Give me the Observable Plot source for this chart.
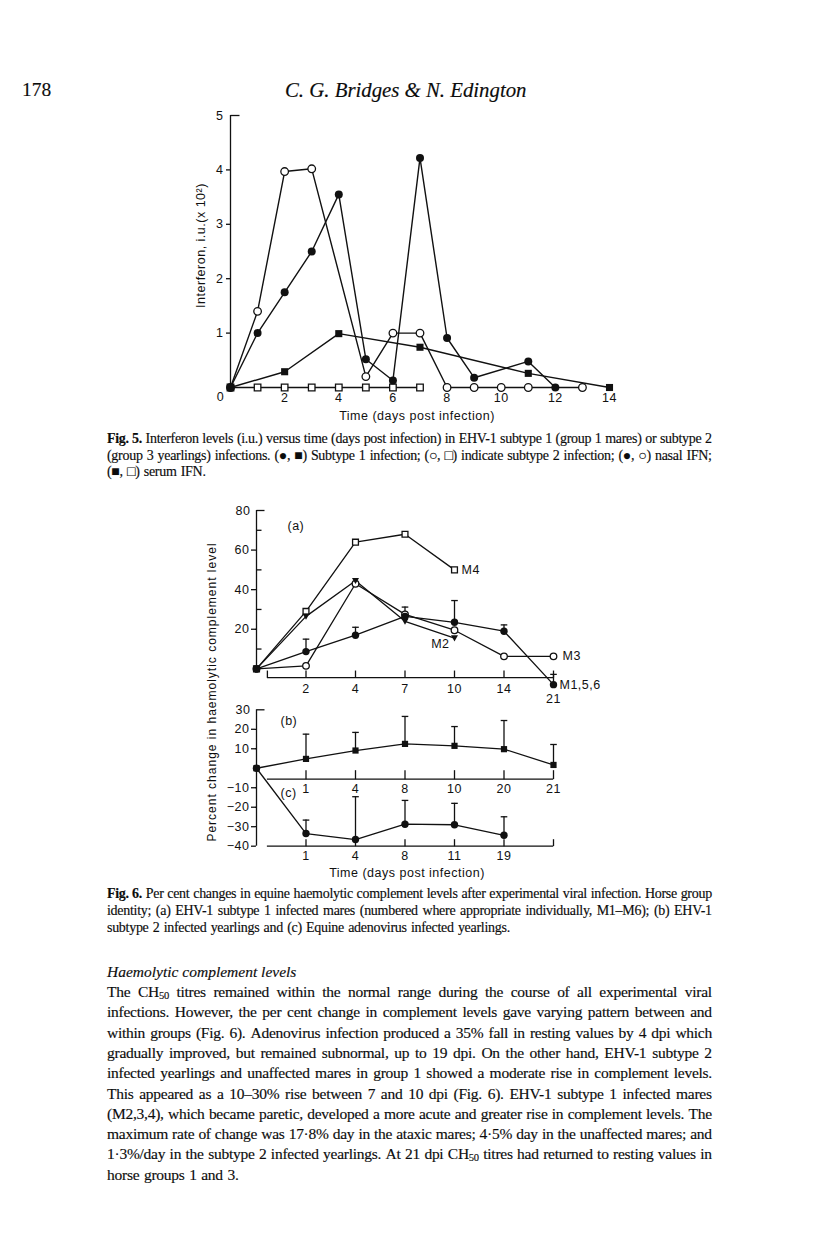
<!DOCTYPE html>
<html>
<head>
<meta charset="utf-8">
<script src="https://cdn.jsdelivr.net/npm/d3@7"></script>
<script src="https://cdn.jsdelivr.net/npm/@observablehq/plot@0.6"></script>
<style>
html,body{margin:0;padding:0;background:#fff;}
body{width:816px;height:1246px;position:relative;overflow:hidden;font-family:"Liberation Serif","Times New Roman",serif;color:#0c0c0c;-webkit-text-stroke:0.15px #0c0c0c;}
.abs{position:absolute;}
.line{position:absolute;display:flex;justify-content:space-between;white-space:nowrap;line-height:1;transform:translateY(-50%);}
.line.free{display:block;}
sub{font-size:0.68em;vertical-align:-0.12em;line-height:0;}
.ytitle{position:absolute;font-family:"Liberation Sans",Arial,sans-serif;font-size:12px;letter-spacing:1px;white-space:nowrap;text-align:center;line-height:14px;transform:rotate(-90deg);transform-origin:50% 50%;-webkit-text-stroke:0;}
svg{-webkit-text-stroke:0;}
</style>
</head>
<body>
<div id="page"></div>
<script>
// ================= DATA =================
// Fig. 5 — interferon (i.u. x 10^2) vs days post infection
const fig5XTicks = [0, 2, 4, 6, 8, 10, 12, 14];
const fig5YTicks = [1, 2, 3, 4, 5];
const nasalS1Days = [0, 1, 2, 3, 4, 5, 6, 7, 8, 9, 11, 12];
const nasalS1IFN  = [0, 1.0, 1.75, 2.5, 3.55, 0.52, 0.13, 4.22, 0.91, 0.18, 0.48, 0];
const nasalS2Days = [0, 1, 2, 3, 5, 6, 7, 8, 9, 10, 11, 13];
const nasalS2IFN  = [0, 1.4, 3.97, 4.02, 0.2, 1.0, 1.0, 0, 0, 0, 0, 0];
const serumS1Days = [0, 2, 4, 7, 11, 14];
const serumS1IFN  = [0, 0.29, 0.99, 0.74, 0.26, 0];
const serumS2Days = [0, 1, 2, 3, 4, 5, 6, 7];
const serumS2IFN  = [0, 0, 0, 0, 0, 0, 0, 0];
const fig5YTitle = "Interferon, i.u.(x 10²)";
const fig5XTitle = "Time (days post infection)";

// Fig. 6 (a) — per cent change, EHV-1 subtype 1 mares
const aDays = ["0", "2", "4", "7", "10", "14", "21"];
const aMajorTicks = [20, 40, 60, 80];
const aMinorTicks = [10, 30, 50, 70];
const m4   = [0, 29, 64, 68, 50];
const m2   = [0, 26.5, 44.5, 24, 15.5];
const m3   = [0, 1.5, 43, 27.5, 19.5, 6.3, 6.3];
const m156 = [0, 8.7, 17, 26.5, 23.5, 19, -8];
const m156Err = [null, 15, 21, 31.2, 34.5, 22.2, -2.8];
const aSeriesLabels = ["M4", "M2", "M3", "M1,5,6"];

// Fig. 6 (b) EHV-1 subtype 2 yearlings, (c) adenovirus yearlings
const bDays = ["0", "1", "4", "8", "10", "20", "21"];
const bMean = [0, 4.8, 9.1, 12.5, 11.5, 9.8, 1.7];
const bErr  = [null, 17.5, 18.4, 26.6, 21.4, 24.5, 12.2];
const cDays = ["0", "1", "4", "8", "11", "19"];
const cMean = [0, -33.5, -36.6, -28.7, -29, -34.4];
const cErr  = [null, -26.6, -14.6, -16.5, -18, -24.9];
const bcYTicks = [30, 20, 10, -10, -20, -30, -40];
const panelLabels = ["(a)", "(b)", "(c)"];
const fig6YTitle = "Percent change in haemolytic complement level";
const fig6XTitle = "Time (days post infection)";

// Text
const headerPage = "178";
const headerAuthors = "C. G. Bridges &amp; N. Edington";
const cap5 = [
  "<b>Fig.&nbsp;5.</b> Interferon levels (i.u.) versus time (days post infection) in EHV-1 subtype 1 (group 1 mares) or subtype 2",
  "(group 3 yearlings) infections. (●, ■) Subtype 1 infection; (○, □) indicate subtype 2 infection; (●, ○) nasal IFN;",
  "(■, □) serum IFN."
];
const cap6 = [
  "<b>Fig.&nbsp;6.</b> Per cent changes in equine haemolytic complement levels after experimental viral infection. Horse group",
  "identity; (a) EHV-1 subtype 1 infected mares (numbered where appropriate individually, M1–M6); (b) EHV-1",
  "subtype 2 infected yearlings and (c) Equine adenovirus infected yearlings."
];
const heading = "Haemolytic complement levels";
const body = [
  "The CH<sub>50</sub> titres remained within the normal range during the course of all experimental viral",
  "infections. However, the per cent change in complement levels gave varying pattern between and",
  "within groups (Fig. 6). Adenovirus infection produced a 35% fall in resting values by 4 dpi which",
  "gradually improved, but remained subnormal, up to 19 dpi. On the other hand, EHV-1 subtype 2",
  "infected yearlings and unaffected mares in group 1 showed a moderate rise in complement levels.",
  "This appeared as a 10–30% rise between 7 and 10 dpi (Fig. 6). EHV-1 subtype 1 infected mares",
  "(M2,3,4), which became paretic, developed a more acute and greater rise in complement levels. The",
  "maximum rate of change was 17·8% day in the ataxic mares; 4·5% day in the unaffected mares; and",
  "1·3%/day in the subtype 2 infected yearlings. At 21 dpi CH<sub>50</sub> titres had returned to resting values in",
  "horse groups 1 and 3."
];

// ================= HELPERS =================
const ink = "#111111";
const page = document.getElementById("page");
function place(node, left, top) {
  const w = document.createElement("div");
  w.className = "abs";
  w.style.left = left + "px"; w.style.top = top + "px";
  w.appendChild(node); page.appendChild(w); return w;
}
function measure(html, size, extra) {
  const s = document.createElement("span");
  s.style.cssText = `position:absolute;visibility:hidden;white-space:nowrap;font-size:${size}px;${extra || ""}`;
  s.innerHTML = html; document.body.appendChild(s);
  const w = s.getBoundingClientRect().width; s.remove(); return w;
}
const plainLen = html => { const t = document.createElement("div"); t.innerHTML = html; return t.textContent.length; };
function block(lines, {left, width, y0, step, size}) {
  // keep the font size, tighten letter spacing if a line would not fit
  let ls = 0;
  lines.forEach((l, i) => {
    if (i < lines.length - 1) {
      const w = measure(l, size);
      const need = (width - 8 - w) / plainLen(l);
      ls = Math.min(ls, need);
    }
  });
  lines.forEach((l, i) => {
    const d = document.createElement("div");
    const justify = i < lines.length - 1;
    d.className = justify ? "line" : "line free";
    d.style.left = left + "px"; d.style.top = (y0 + i * step) + "px"; d.style.fontSize = size + "px";
    d.style.letterSpacing = ls + "px";
    if (justify) { d.style.width = width + "px"; d.innerHTML = l.split(" ").map(w => `<span>${w}</span>`).join(""); }
    else { d.style.wordSpacing = "1px"; d.innerHTML = l; }
    page.appendChild(d);
  });
}
function line(html, left, y, size, style) {
  const d = document.createElement("div");
  d.className = "line free"; d.style.left = left + "px"; d.style.top = y + "px"; d.style.fontSize = size + "px";
  if (style) d.style.cssText += style;
  d.innerHTML = html; page.appendChild(d); return d;
}
// custom symbols (styling only)
const stub = len => ({draw(c) { c.moveTo(0, 0); c.lineTo(len, 0); }});
const up = len => ({draw(c) { c.moveTo(0, 0); c.lineTo(0, -len); }});
const cap = {draw(c) { c.moveTo(-3.3, 0); c.lineTo(3.3, 0); }};
const triDown = {draw(c) { c.moveTo(-3.5, -2.8); c.lineTo(3.5, -2.8); c.lineTo(0, 3.3); c.closePath(); }};
const chartStyle = {fontFamily: "'Liberation Sans', Arial, sans-serif", fontSize: "12.5px", letterSpacing: "0.5px", color: ink, background: "transparent", overflow: "visible"};
const zip = (xs, ys) => xs.map((x, i) => ({x, y: ys[i]}));
const ser = (vals, err) => vals.map((v, i) => ({x: i, y: v, e: err ? err[i] : null}));
const intFmt = d => String(d);

// ================= HEADER =================
line(headerPage, 22, 90, 19.5);
line(headerAuthors, 285, 90, 20.8, "font-style:italic;");

// ================= FIG 5 =================
const s1n = zip(nasalS1Days, nasalS1IFN), s2n = zip(nasalS2Days, nasalS2IFN);
const s1s = zip(serumS1Days, serumS1IFN), s2s = zip(serumS2Days, serumS2IFN);
const lineOpt = {x: "x", y: "y", stroke: ink, strokeWidth: 1.4};
const fig5 = Plot.plot({
  width: 480, height: 330, marginLeft: 80, marginRight: 21, marginTop: 15, marginBottom: 43,
  x: {domain: [0, 14]}, y: {domain: [0, 5]},
  style: chartStyle,
  marks: [
    Plot.ruleX([0], {y1: 0, y2: 5, stroke: ink, strokeWidth: 1.3}),
    Plot.axisY({ticks: fig5YTicks.filter(t => t < 5), tickFormat: intFmt, tickSize: 4, tickPadding: 3, label: null, strokeWidth: 1.3}),
    Plot.axisY({ticks: fig5YTicks.filter(t => t === 5), tickFormat: intFmt, tickSize: 0, tickPadding: 7, label: null}),
    Plot.dot(fig5YTicks.filter(t => t === 5), {x: 0, y: d => d, symbol: stub(9), stroke: ink, fill: "none", strokeWidth: 1.3}),
    Plot.axisX({ticks: fig5XTicks.filter(t => t > 0), tickFormat: intFmt, tickSize: 0, tickPadding: 6, label: null}),
    Plot.text(fig5XTicks.filter(t => t === 0), {x: d => d, y: 0, text: d => String(d), dx: -10, dy: 9}),
    Plot.line(s2s, lineOpt), Plot.line(s2n, lineOpt), Plot.line(s1s, lineOpt), Plot.line(s1n, lineOpt),
    Plot.dot(s2s, {x: "x", y: "y", symbol: "square", r: 3.7, fill: "white", stroke: ink, strokeWidth: 1.3}),
    Plot.dot(s2n, {x: "x", y: "y", r: 3.8, fill: "white", stroke: ink, strokeWidth: 1.3}),
    Plot.dot(s1s, {x: "x", y: "y", symbol: "square", r: 4, fill: ink}),
    Plot.dot(s1n, {x: "x", y: "y", r: 4, fill: ink}),
    Plot.text([fig5YTitle], {frameAnchor: "left", rotate: -90, textAnchor: "middle", lineAnchor: "middle", dx: -30, dy: -6, text: d => d}),
    Plot.text([fig5XTitle], {frameAnchor: "bottom", textAnchor: "middle", lineAnchor: "middle", dy: 28, dx: -3, text: d => d})
  ]
});
place(fig5, 150, 100);

// ================= CAPTION 5 =================
block(cap5, {left: 107, width: 605, y0: 439, step: 16.6, size: 14});

// ================= FIG 6 (a) =================
const A_BASE = -4.4, AX0 = 0.22;
const idxA = aDays.map((d, i) => i).slice(1);
const sM4 = ser(m4), sM2 = ser(m2), sM3 = ser(m3), sM156 = ser(m156, m156Err);
const lineA = {x: "x", y: "y", stroke: ink, strokeWidth: 1.3};
const figA = Plot.plot({
  width: 480, height: 215, marginLeft: 106, marginRight: 77, marginTop: 10, marginBottom: 15,
  x: {domain: [0, 6], axis: null}, y: {domain: [-16, 80]},
  style: chartStyle,
  marks: [
    Plot.ruleX([0], {y1: 0, y2: 80, stroke: ink, strokeWidth: 1.3}),
    Plot.axisY({ticks: aMajorTicks.filter(t => t < 80), tickSize: 5, tickPadding: 2, label: null, strokeWidth: 1.3}),
    Plot.axisY({ticks: aMajorTicks.filter(t => t === 80), tickSize: 0, tickPadding: 6, label: null}),
    Plot.dot(aMajorTicks.filter(t => t === 80), {x: 0, y: d => d, symbol: stub(8), stroke: ink, fill: "none", strokeWidth: 1.3}),
    Plot.dot(aMinorTicks, {x: 0, y: d => d, symbol: stub(5), stroke: ink, fill: "none", strokeWidth: 1.3}),
    Plot.ruleY([A_BASE], {x1: AX0, x2: idxA[idxA.length - 1], stroke: ink, strokeWidth: 1.3}),
    Plot.dot([AX0, ...idxA], {x: d => d, y: A_BASE, symbol: up(7), stroke: ink, fill: "none", strokeWidth: 1.3}),
    Plot.text(idxA.slice(0, -1), {x: d => d, y: A_BASE, text: d => aDays[d], dy: 11}),
    Plot.text(idxA.slice(-1), {x: d => d, y: A_BASE, text: d => aDays[d], dy: 21}),
    Plot.line(sM4, lineA), Plot.line(sM2, lineA), Plot.line(sM3, lineA), Plot.line(sM156, lineA),
    Plot.ruleX(sM156.filter(d => d.e != null), {x: "x", y1: "y", y2: "e", stroke: ink, strokeWidth: 1.3}),
    Plot.dot(sM156.filter(d => d.e != null), {x: "x", y: "e", symbol: cap, stroke: ink, fill: "none", strokeWidth: 1.3}),
    Plot.dot(sM4, {x: "x", y: "y", symbol: "square", r: 3.3, fill: "white", stroke: ink, strokeWidth: 1.3}),
    Plot.dot(sM3, {x: "x", y: "y", r: 3.3, fill: "white", stroke: ink, strokeWidth: 1.3}),
    Plot.dot(sM2, {x: "x", y: "y", symbol: triDown, fill: ink}),
    Plot.dot(sM156, {x: "x", y: "y", r: 3.7, fill: ink}),
    Plot.text(sM4.slice(-1), {x: "x", y: "y", text: () => aSeriesLabels[0], textAnchor: "start", dx: 7}),
    Plot.text(sM2.slice(-1), {x: "x", y: "y", text: () => aSeriesLabels[1], textAnchor: "end", dx: -5, dy: 6}),
    Plot.text(sM3.slice(-1), {x: "x", y: "y", text: () => aSeriesLabels[2], textAnchor: "start", dx: 9}),
    Plot.text(sM156.slice(-1), {x: "x", y: "y", text: () => aSeriesLabels[3], textAnchor: "start", dx: 6}),
    Plot.text(panelLabels.slice(0, 1), {frameAnchor: "top-left", text: d => d, textAnchor: "start", lineAnchor: "middle", dx: 31, dy: 15})
  ]
});
place(figA, 150, 500);

// ================= FIG 6 (b, c) =================
const B_BASE = -5.6, C_BASE = -40;
const idxB = bDays.map((d, i) => i).slice(1);
const idxC = cDays.map((d, i) => i).slice(1);
const sB = ser(bMean, bErr), sC = ser(cMean, cErr);
const figBC = Plot.plot({
  width: 480, height: 180, marginLeft: 106, marginRight: 77, marginTop: 9.3, marginBottom: 34.3,
  x: {domain: [0, 6], axis: null}, y: {domain: [-40, 30]},
  style: chartStyle,
  marks: [
    Plot.ruleX([0], {y1: -40, y2: 30, stroke: ink, strokeWidth: 1.3}),
    Plot.axisY({ticks: bcYTicks.filter(t => t < 30), tickSize: 5, tickPadding: 2, label: null, strokeWidth: 1.3}),
    Plot.axisY({ticks: bcYTicks.filter(t => t === 30), tickSize: 0, tickPadding: 6, label: null}),
    Plot.dot(bcYTicks.filter(t => t === 30), {x: 0, y: d => d, symbol: stub(8), stroke: ink, fill: "none", strokeWidth: 1.3}),
    Plot.ruleY([B_BASE], {x1: AX0, x2: idxB[idxB.length - 1], stroke: ink, strokeWidth: 1.3}),
    Plot.dot(idxB, {x: d => d, y: B_BASE, symbol: up(9), stroke: ink, fill: "none", strokeWidth: 1.3}),
    Plot.text(idxB, {x: d => d, y: B_BASE, text: d => bDays[d], dy: 10}),
    Plot.ruleY([C_BASE], {x1: AX0, x2: idxB[idxB.length - 1], stroke: ink, strokeWidth: 1.3}),
    Plot.dot(idxB, {x: d => d, y: C_BASE, symbol: up(7), stroke: ink, fill: "none", strokeWidth: 1.3}),
    Plot.text(idxC, {x: d => d, y: C_BASE, text: d => cDays[d], dy: 10}),
    Plot.line(sB, {x: "x", y: "y", stroke: ink, strokeWidth: 1.3}),
    Plot.line(sC, {x: "x", y: "y", stroke: ink, strokeWidth: 1.3}),
    Plot.ruleX(sB.filter(d => d.e != null), {x: "x", y1: "y", y2: "e", stroke: ink, strokeWidth: 1.3}),
    Plot.dot(sB.filter(d => d.e != null), {x: "x", y: "e", symbol: cap, stroke: ink, fill: "none", strokeWidth: 1.3}),
    Plot.ruleX(sC.filter(d => d.e != null), {x: "x", y1: "y", y2: "e", stroke: ink, strokeWidth: 1.3}),
    Plot.dot(sC.filter(d => d.e != null), {x: "x", y: "e", symbol: cap, stroke: ink, fill: "none", strokeWidth: 1.3}),
    Plot.dot(sB, {x: "x", y: "y", symbol: "square", r: 3.5, fill: ink}),
    Plot.dot(sC, {x: "x", y: "y", r: 3.7, fill: ink}),
    Plot.text(panelLabels.slice(1, 2), {frameAnchor: "top-left", text: d => d, textAnchor: "start", lineAnchor: "middle", dx: 24, dy: 11}),
    Plot.text(panelLabels.slice(2, 3), {frameAnchor: "top-left", text: d => d, textAnchor: "start", lineAnchor: "middle", dx: 24, dy: 83}),
    Plot.text([fig6XTitle], {frameAnchor: "bottom", textAnchor: "middle", lineAnchor: "middle", dy: 27, dx: 2, text: d => d})
  ]
});
place(figBC, 150, 700);

// Fig 6 shared y title
const yt = document.createElement("div");
yt.className = "ytitle"; yt.textContent = fig6YTitle;
yt.style.width = "330px"; yt.style.left = (212 - 165) + "px"; yt.style.top = (692 - 7) + "px";
page.appendChild(yt);

// ================= CAPTION 6 + BODY =================
block(cap6, {left: 107, width: 605, y0: 894, step: 16.8, size: 14});
line("<i>" + heading + "</i>", 107, 972, 15.5);
block(body, {left: 107, width: 605, y0: 992, step: 20.3, size: 15.5});
</script>
</body>
</html>
